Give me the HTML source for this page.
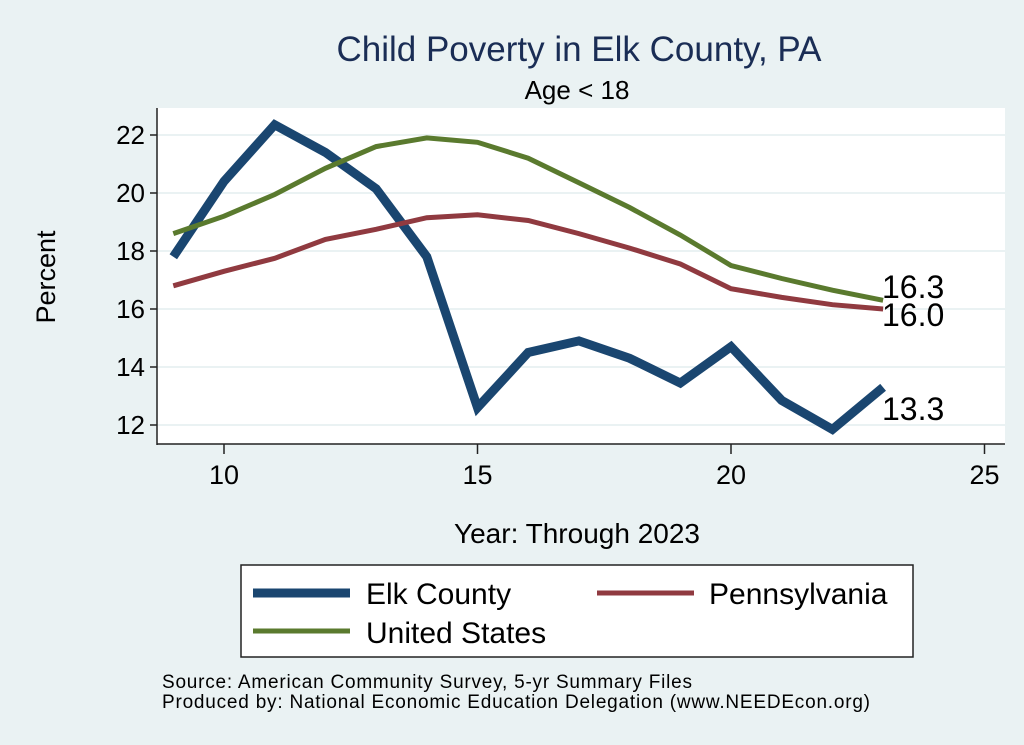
<!DOCTYPE html>
<html><head><style>body{margin:0;background:#eaf2f3}svg{display:block}text{font-family:"Liberation Sans",Arial,sans-serif}</style></head>
<body>
<svg id="s" width="1024" height="745" xmlns="http://www.w3.org/2000/svg">
<rect width="1024" height="745" fill="#eaf2f3"/>
<rect x="157" y="108" width="848" height="336" fill="#fff"/>
<g id="grid"></g>
<line x1="157" y1="108" x2="157" y2="445" stroke="#222" stroke-width="1.5"/>
<line x1="157" y1="444" x2="1005" y2="444" stroke="#222" stroke-width="1.5"/>
<g id="lines"></g>
<text x="579" y="61" font-size="35" fill="#1a2d55" text-anchor="middle">Child Poverty in Elk County, PA</text>
<text x="577" y="99" font-size="26" text-anchor="middle">Age &lt; 18</text>
<text transform="translate(55,277) rotate(-90)" font-size="27" text-anchor="middle">Percent</text>
<text x="577" y="543" font-size="28" text-anchor="middle">Year: Through 2023</text>
<text x="882" y="298" font-size="32">16.3</text>
<text x="882" y="326" font-size="32">16.0</text>
<text x="882" y="420" font-size="32">13.3</text>
<rect x="241" y="565" width="672" height="92" fill="#fff" stroke="#222" stroke-width="1.5"/>
<line x1="253" y1="593" x2="350" y2="593" stroke="#1a4670" stroke-width="9"/>
<text x="366" y="604" font-size="30">Elk County</text>
<line x1="597" y1="593" x2="694" y2="593" stroke="#903a40" stroke-width="5"/>
<text x="709" y="604" font-size="30">Pennsylvania</text>
<line x1="253" y1="631" x2="350" y2="631" stroke="#5a7a2e" stroke-width="5"/>
<text x="366" y="643" font-size="30">United States</text>
<text x="162" y="688" font-size="19" textLength="530">Source: American Community Survey, 5-yr Summary Files</text>
<text x="162" y="708" font-size="19" textLength="708">Produced by: National Economic Education Delegation (www.NEEDEcon.org)</text>
</svg>
<script>
var X=function(v){return 224+(v-10)*50.7},Y=function(v){return 135+(22-v)*29};
var g='';
for(var v=12;v<=22;v+=2){g+='<line x1="157" x2="1005" y1="'+Y(v)+'" y2="'+Y(v)+'" stroke="#eaf2f3" stroke-width="2"/><line x1="150" x2="157" y1="'+Y(v)+'" y2="'+Y(v)+'" stroke="#222" stroke-width="1.5"/><text x="145" y="'+(Y(v)+9)+'" font-size="26" text-anchor="end">'+v+'</text>';}
for(var x=10;x<=25;x+=5){g+='<line x1="'+X(x)+'" x2="'+X(x)+'" y1="444" y2="454" stroke="#222" stroke-width="1.5"/><text x="'+X(x)+'" y="484" font-size="27" text-anchor="middle">'+x+'</text>';}
document.getElementById('grid').innerHTML=g;
function P(d){return d.map(function(v,i){return X(9+i).toFixed(1)+','+Y(v).toFixed(1)}).join(' ')}
var us=[18.6,19.2,19.95,20.85,21.6,21.9,21.75,21.2,20.35,19.5,18.55,17.5,17.05,16.65,16.3];
var pa=[16.8,17.3,17.75,18.4,18.75,19.15,19.25,19.05,18.6,18.1,17.55,16.7,16.4,16.15,16.0];
var ek=[17.8,20.4,22.35,21.4,20.15,17.8,12.6,14.5,14.9,14.3,13.45,14.7,12.85,11.85,13.3];
document.getElementById('lines').innerHTML=
'<polyline fill="none" stroke="#1a4670" stroke-width="9" points="'+P(ek)+'"/>'+
'<polyline fill="none" stroke="#903a40" stroke-width="5" points="'+P(pa)+'"/>'+
'<polyline fill="none" stroke="#5a7a2e" stroke-width="5" points="'+P(us)+'"/>';
</script>
</body></html>
